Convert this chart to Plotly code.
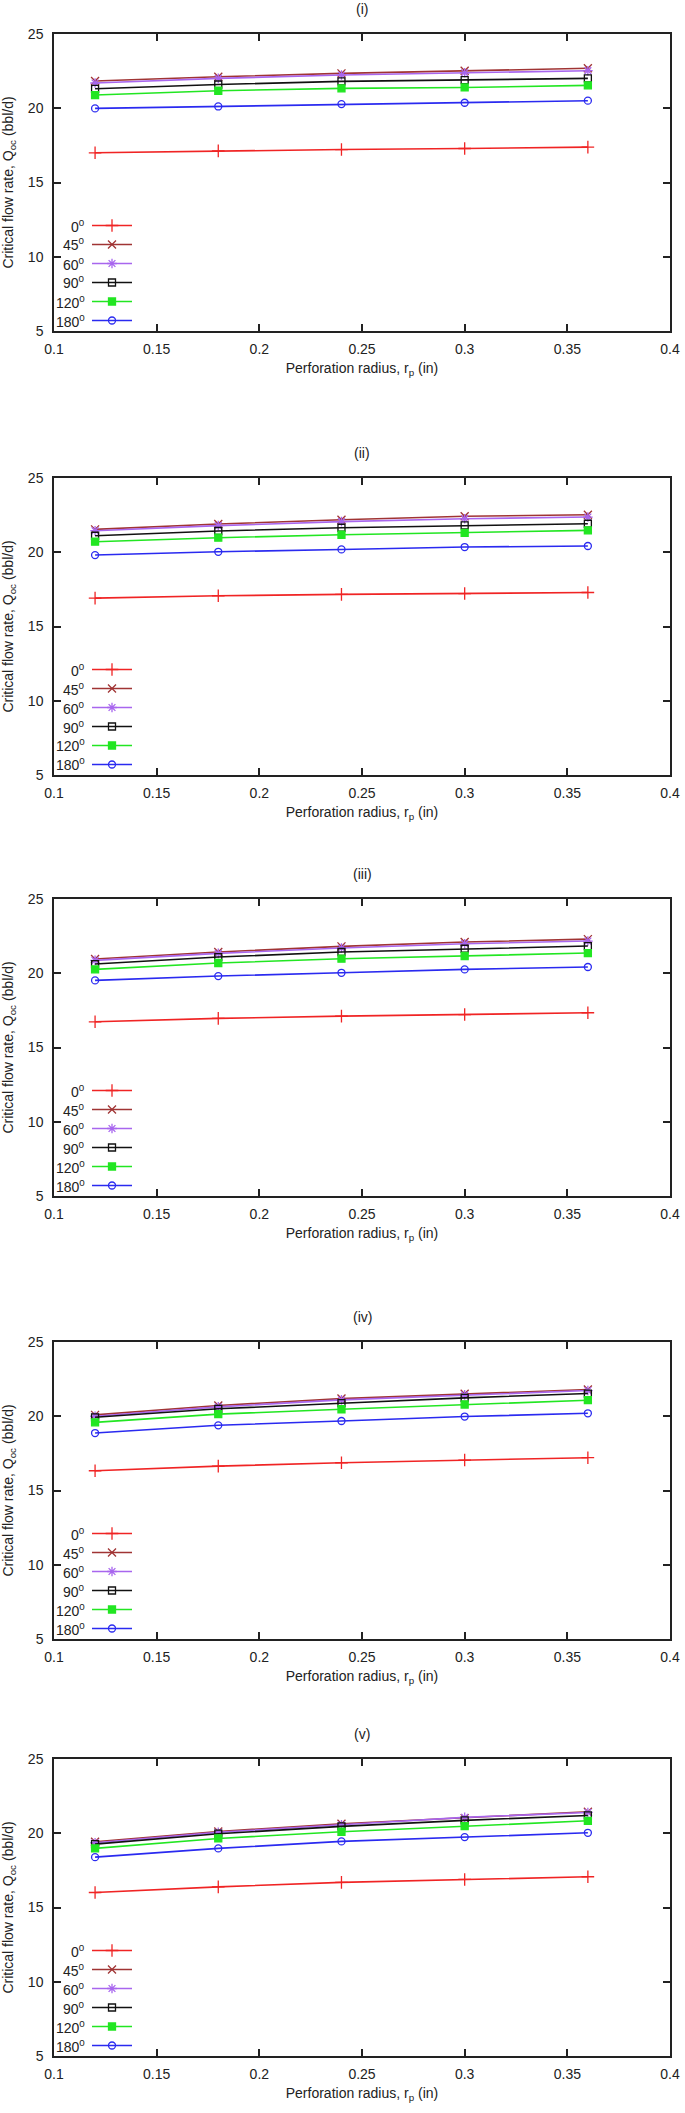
import plotly.graph_objects as go

# ---------------- data ----------------
x_rp = [0.12, 0.18, 0.24, 0.30, 0.36]          # perforation radius (in)
angle_labels = ["0", "45", "60", "90", "120", "180"]
panel_titles = ["(i)", "(ii)", "(iii)", "(iv)", "(v)"]

# critical flow rate per panel; rows follow angle_labels
q_panel_i = [
    [17.00, 17.13, 17.22, 17.29, 17.38],
    [21.83, 22.12, 22.35, 22.53, 22.69],
    [21.70, 22.01, 22.24, 22.39, 22.53],
    [21.31, 21.60, 21.81, 21.90, 22.01],
    [20.89, 21.18, 21.34, 21.40, 21.54],
    [19.99, 20.12, 20.28, 20.37, 20.51],
]
q_panel_ii = [
    [16.91, 17.07, 17.16, 17.22, 17.29],
    [21.54, 21.90, 22.19, 22.42, 22.53],
    [21.45, 21.79, 22.06, 22.26, 22.37],
    [21.11, 21.43, 21.65, 21.81, 21.92],
    [20.71, 20.98, 21.18, 21.31, 21.47],
    [19.81, 20.03, 20.19, 20.35, 20.42],
]
q_panel_iii = [
    [16.73, 16.96, 17.11, 17.22, 17.34],
    [20.96, 21.43, 21.81, 22.10, 22.30],
    [20.87, 21.34, 21.70, 21.99, 22.17],
    [20.62, 21.09, 21.43, 21.65, 21.83],
    [20.26, 20.69, 20.98, 21.16, 21.36],
    [19.52, 19.81, 20.03, 20.26, 20.42],
]
q_panel_iv = [
    [16.33, 16.64, 16.87, 17.05, 17.21],
    [20.09, 20.72, 21.19, 21.51, 21.80],
    [20.00, 20.63, 21.10, 21.44, 21.73],
    [19.93, 20.50, 20.88, 21.24, 21.53],
    [19.59, 20.14, 20.47, 20.79, 21.08],
    [18.87, 19.39, 19.68, 19.98, 20.20],
]
q_panel_v = [
    [16.01, 16.39, 16.69, 16.89, 17.07],
    [19.43, 20.12, 20.64, 21.02, 21.45],
    [19.36, 20.06, 20.57, 21.07, 21.40],
    [19.27, 19.97, 20.46, 20.87, 21.20],
    [18.98, 19.65, 20.10, 20.48, 20.84],
    [18.39, 18.98, 19.45, 19.74, 20.03],
]
panels = [q_panel_i, q_panel_ii, q_panel_iii, q_panel_iv, q_panel_v]

x_tickvals = [0.1, 0.15, 0.2, 0.25, 0.3, 0.35, 0.4]
x_ticktext = ["0.1", "0.15", "0.2", "0.25", "0.3", "0.35", "0.4"]
y_tickvals = [5, 10, 15, 20, 25]

# ---------------- style ----------------
colors = ["#f02424", "#a03434", "#a866ee", "#111111", "#22e622", "#2a2af0"]
symbols = ["cross-thin-open", "x-thin-open", "asterisk-open", "square-open", "square", "circle-open"]
msizes = [9, 8, 8, 7, 7, 7]

W, H = 685, 2113
tops = [34, 478, 899, 1342, 1759]
ph = 297
xl, xr = 54, 670
FONT = "Liberation Sans"
TXT = "#222222"
AX = "#222222"

fig = go.Figure()
layout_upd = {}
annotations = []

for k in range(5):
    sfx = "" if k == 0 else str(k + 1)
    xa, ya, lg = "x" + sfx, "y" + sfx, "legend" + sfx
    for j in range(6):
        fig.add_trace(go.Scatter(
            x=x_rp, y=panels[k][j], xaxis=xa, yaxis=ya, legend=lg,
            name="", mode="lines+markers",
            line=dict(color=colors[j], width=1.6),
            marker=dict(symbol=symbols[j], size=msizes[j], color=colors[j],
                        line=dict(color=colors[j], width=1.3)),
            hovertemplate=angle_labels[j] + "°: %{y}<extra></extra>",
        ))
    top, bot = tops[k], tops[k] + ph
    common = dict(showline=True, mirror="ticks", ticks="inside", ticklen=7,
                  linecolor=AX, linewidth=1.5, tickcolor=AX, tickwidth=1.5,
                  showgrid=False, zeroline=False, automargin=False,
                  ticklabeloverflow="allow",
                  tickfont=dict(family=FONT, size=14, color=TXT))
    layout_upd["xaxis" + sfx] = dict(
        domain=[xl / W, xr / W], anchor=ya, range=[0.1, 0.4],
        tickvals=x_tickvals, ticktext=x_ticktext, ticklabelstandoff=4,
        title=dict(text="Perforation radius, r<sub>p</sub> (in)",
                   font=dict(family=FONT, size=14, color=TXT), standoff=8),
        **common)
    layout_upd["yaxis" + sfx] = dict(
        domain=[1 - bot / H, 1 - top / H], anchor=xa, range=[5, 25],
        tickvals=y_tickvals, ticklabelstandoff=6,
        title=dict(text="Critical flow rate, Q<sub>oc</sub> (bbl/d)",
                   font=dict(family=FONT, size=14, color=TXT), standoff=12),
        **common)
    # legend block (symbol samples); labels drawn as text to the left
    leg_top = top + 177
    layout_upd[lg] = dict(
        x=87 / W, y=1 - leg_top / H, xanchor="left", yanchor="top",
        bgcolor="rgba(0,0,0,0)", borderwidth=0, tracegroupgap=0,
        itemwidth=40, font=dict(family=FONT, size=11, color=TXT),
    )
    for j in range(6):
        yc = leg_top + 14.5 + 19 * j
        annotations.append(dict(
            text=angle_labels[j] + "<sup>0</sup>", x=87 / W, y=1 - yc / H,
            xref="paper", yref="paper", xanchor="right", yanchor="middle",
            showarrow=False, font=dict(family=FONT, size=14, color=TXT)))
    annotations.append(dict(
        text=panel_titles[k], x=(xl + xr) / 2 / W, y=1 - (top - 25) / H,
        xref="paper", yref="paper", xanchor="center", yanchor="middle",
        showarrow=False, font=dict(family=FONT, size=14, color=TXT)))

fig.update_layout(
    width=W, height=H, margin=dict(l=0, r=0, t=0, b=0),
    paper_bgcolor="white", plot_bgcolor="white",
    showlegend=True, annotations=annotations, **layout_upd)

fig.write_html(
    "out.html",
    config={"displayModeBar": False},
    post_script="document.body.style.margin='0';document.body.style.padding='0';"
                "document.documentElement.style.overflow='hidden';",
)
